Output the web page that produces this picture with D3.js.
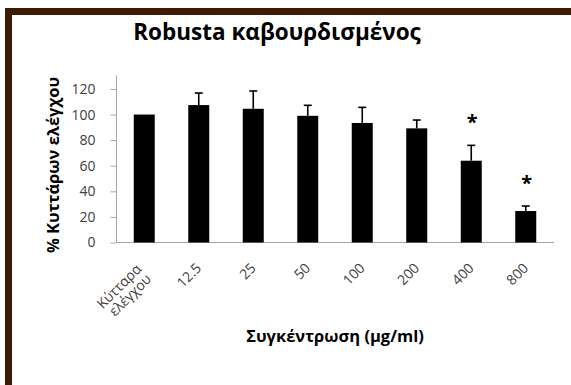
<!DOCTYPE html>
<html><head><meta charset="utf-8">
<script src="https://cdn.jsdelivr.net/npm/d3@7"></script>
<style>body{margin:0;background:#fff}svg{display:block}</style>
</head><body>
<svg id="c" width="571" height="385"></svg>
<script>
const categories = ["Κύτταρα ελέγχου","12.5","25","50","100","200","400","800"];
const values = [100, 107.4, 104.5, 99, 93.4, 89.2, 63.9, 24.6];
const errors = [0, 9.4, 13.9, 8.2, 12.2, 6.5, 12, 3.9];
const significant = [false,false,false,false,false,false,true,true];
const yTicks = [0,20,40,60,80,100,120];
const title = "Robusta καβουρδισμένος";
const yTitle = "% Κυττάρων ελέγχου";
const xTitle = "Συγκέντρωση (μg/ml)";

const svg = d3.select("#c");
const font = "'Open Sans', 'Liberation Sans', sans-serif";

// frame
svg.append("rect").attr("x",5).attr("y",8).attr("width",566).attr("height",7).attr("fill","#3d1c06");
svg.append("rect").attr("x",5).attr("y",8).attr("width",7).attr("height",377).attr("fill","#3d1c06");

const x = d3.scaleBand().domain(categories).range([117,553]).paddingInner(0.615).paddingOuter(0.3075);
const y = d3.scaleLinear().domain([0,130.5]).range([242.5,75.5]);

// title
svg.append("text").attr("x",277).attr("y",39.5).attr("text-anchor","middle")
  .attr("font-family",font).attr("font-weight","bold").attr("font-size",22.5).attr("fill","#000").text(title);

// y axis
const yAxis = svg.append("g").attr("transform","translate(116.5,0)")
  .call(d3.axisLeft(y).tickValues(yTicks).tickSize(6).tickPadding(15).tickFormat(d3.format("d")));
yAxis.select(".domain").attr("stroke","#a6a6a6").attr("d", `M0,${y.range()[1]}V${y.range()[0]}`);
yAxis.selectAll(".tick line").attr("stroke","#a6a6a6");
yAxis.selectAll(".tick text").attr("font-family",font).attr("font-size",14).attr("fill","#404040");

// x axis line
svg.append("line").attr("x1",116.5).attr("x2",554).attr("y1",242.5).attr("y2",242.5).attr("stroke","#a6a6a6");

// bars
svg.selectAll("rect.bar").data(values).join("rect").attr("class","bar")
  .attr("x",(d,i)=>x(categories[i])).attr("width",x.bandwidth())
  .attr("y",d=>y(d)).attr("height",d=>y(0)-y(d)).attr("fill","#000");

// error bars
const eg = svg.append("g").attr("stroke","#000").attr("stroke-width",1.6);
values.forEach((v,i)=>{
  if(!errors[i]) return;
  const cx = x(categories[i]) + x.bandwidth()/2;
  eg.append("line").attr("x1",cx).attr("x2",cx).attr("y1",y(v)).attr("y2",y(v+errors[i]));
  eg.append("line").attr("x1",cx-4).attr("x2",cx+4).attr("y1",y(v+errors[i])).attr("y2",y(v+errors[i]));
});

// asterisks
values.forEach((v,i)=>{
  if(!significant[i]) return;
  const cx = x(categories[i]) + x.bandwidth()/2;
  svg.append("text").attr("x",cx+1).attr("y",y(v+errors[i])-16).attr("text-anchor","middle")
    .attr("font-family",font).attr("font-size",20).attr("font-weight","bold").text("*");
});

// x tick labels
categories.forEach((c,i)=>{
  const cx = x(c) + x.bandwidth()/2;
  const parts = c.split(" ");
  const t = svg.append("text")
    .attr("text-anchor","end").attr("font-family",font).attr("font-size",14).attr("fill","#404040");
  if(parts.length>1){
    t.attr("transform",`translate(${cx-2},${270}) rotate(-45)`);
    t.append("tspan").attr("x",0).attr("y",0).text(parts[0]);
    t.append("tspan").attr("x",0).attr("y",14).text(parts[1]);
  } else {
    t.attr("transform",`translate(${cx+3.5},${269}) rotate(-45)`).text(c);
  }
});

// axis titles
svg.append("text").attr("transform","translate(59,165) rotate(-90)").attr("text-anchor","middle")
  .attr("font-family",font).attr("font-weight","bold").attr("font-size",16.5).attr("fill","#000").text(yTitle);
svg.append("text").attr("x",335).attr("y",341.5).attr("text-anchor","middle")
  .attr("font-family",font).attr("font-weight","bold").attr("font-size",16.5).attr("fill","#000").text(xTitle);
</script>
</body></html>
